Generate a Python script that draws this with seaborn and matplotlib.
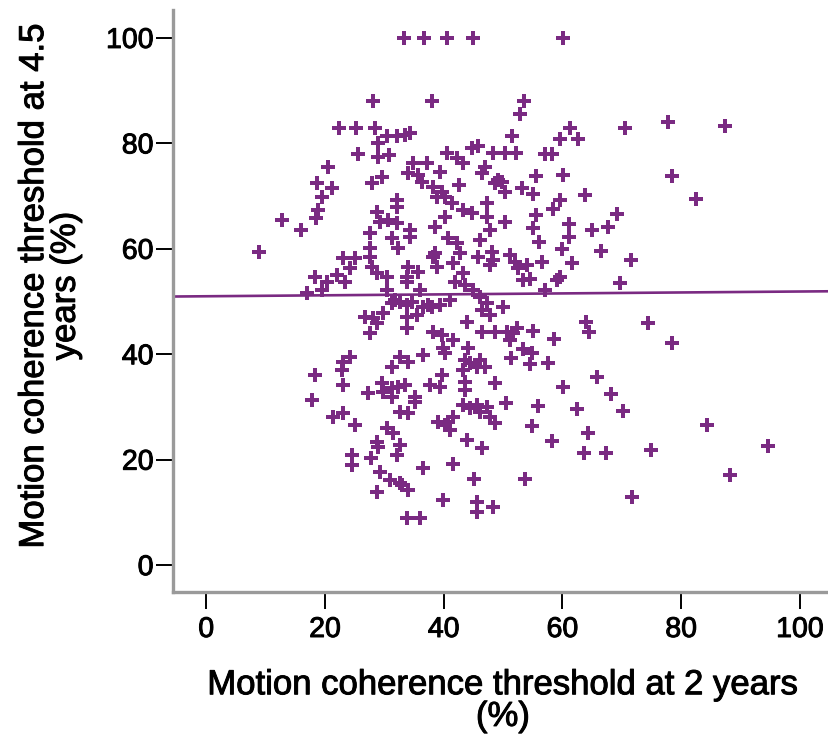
import matplotlib
matplotlib.use("Agg")
import matplotlib.pyplot as plt
import matplotlib.patheffects as pe
import seaborn as sns
import pandas as pd

# ---- data (x: threshold at 2 y, y: threshold at 4.5 y) ----
x_2y = [
    33.3, 36.7, 40.6, 44.9, 60.1,
    28.1, 38.0, 22.4, 25.3, 28.5, 30.5, 32.2, 33.5, 34.3, 29.0, 25.6, 29.0, 30.8, 20.5, 18.7,
    21.2, 19.5, 18.9, 18.5, 12.8, 16.0, 8.9, 27.9, 29.6, 34.8, 37.2, 34.0, 35.7, 36.4, 39.4,
    40.6, 42.3, 43.3, 44.8, 45.8, 47.0, 48.3, 46.5, 38.2, 38.9, 40.2, 42.6, 41.4, 43.3, 44.8,
    47.3, 47.3, 48.7, 32.2, 32.2, 28.8, 29.3, 30.6, 32.2, 27.6, 31.3, 34.3, 34.3, 32.3, 40.2,
    38.6, 40.7, 42.3, 42.8, 46.1, 47.8, 45.8, 47.8, 27.6, 27.6, 27.9, 28.8, 30.5, 23.1, 25.1,
    24.2, 18.4, 20.4, 22.1, 23.4, 19.5, 17.0, 34.0, 33.8, 35.7, 33.8, 38.2, 38.9, 41.6, 41.9,
    43.3, 43.6, 44.9, 36.0, 30.5, 48.3,
    49.2, 39.7, 48.1, 38.6,
    53.5, 52.9, 51.5, 50.3, 52.2, 57.1, 58.2, 61.3, 59.6, 62.6, 70.5, 55.6, 60.1, 49.8, 50.3,
    53.2, 55.1, 59.6, 58.4, 63.8, 50.3, 55.6, 55.1, 56.1, 61.1, 61.1, 59.9, 65.0, 67.7, 69.2,
    66.5, 51.2, 52.0, 52.5, 54.0, 53.4, 54.5, 56.6, 61.6, 59.1, 59.6, 69.7, 71.5, 57.1,
    77.8, 87.4, 78.5, 82.5,
    50.0, 50.7, 51.7, 52.4, 51.2, 55.1, 58.6, 64.0, 64.5, 74.4, 78.5, 53.4, 54.9, 51.3, 54.5,
    57.6, 65.8, 60.1, 68.2, 50.5, 55.9, 62.5, 70.2, 54.9, 84.3, 64.3, 58.2, 63.6, 67.3, 74.9,
    94.6, 53.7, 88.2, 71.7,
    31.3, 32.7, 33.8, 34.7, 36.5, 38.0, 39.4, 33.8, 35.5, 26.8, 28.1, 29.8, 27.6, 28.8, 33.8,
    38.2, 39.7, 41.6, 43.9, 46.5, 46.5, 47.8, 39.9, 40.2, 36.5, 32.7, 34.0, 31.3, 23.1, 24.2,
    22.9, 18.4, 23.1, 17.8, 21.4, 23.1, 25.1, 27.3, 29.6, 29.8, 31.3, 32.3, 33.5, 31.3, 35.2,
    35.2, 32.7, 34.0, 37.7, 39.4, 39.7, 43.6, 43.6, 43.3, 43.6, 44.4, 46.1, 47.0, 45.6, 44.1,
    48.7, 43.3, 44.4, 45.6, 46.1, 47.3, 39.1, 40.2, 41.1, 40.7, 41.6, 47.8, 48.7, 43.9, 46.5,
    30.5, 31.5, 32.7, 28.8, 29.0, 32.2, 24.6, 24.6, 27.8, 29.3, 31.0, 32.7, 34.0, 28.8, 36.5,
    41.6, 45.1, 39.9, 45.6, 45.6, 48.3, 33.8, 36.0,
    48.7, 33.0, 31.8, 37.4, 41.1, 46.1, 47.3,
]
y_45y = [
    100, 100, 100, 100, 100,
    88.0, 88.0, 82.9, 82.9, 82.9, 81.4, 81.4, 81.6, 82.0, 80.0, 78.0, 77.4, 77.8, 75.5, 72.5,
    71.5, 69.8, 67.4, 65.8, 65.5, 63.6, 59.4, 72.5, 73.6, 76.3, 76.3, 74.4, 74.0, 72.7, 74.6,
    78.2, 77.2, 76.3, 79.1, 79.5, 75.5, 78.2, 74.4, 71.7, 69.8, 69.8, 72.1, 68.7, 67.4, 66.8,
    68.7, 66.0, 72.5, 69.3, 67.9, 67.0, 65.1, 65.5, 64.9, 63.0, 62.0, 63.6, 62.2, 60.2, 66.0,
    64.1, 62.0, 61.1, 59.2, 61.7, 63.6, 58.4, 56.9, 60.2, 58.4, 56.5, 55.4, 54.6, 58.2, 58.2,
    56.3, 54.6, 53.7, 55.0, 53.7, 52.2, 51.6, 56.5, 54.6, 55.6, 53.7, 58.4, 56.5, 57.3, 53.7,
    55.4, 53.1, 52.2, 52.2, 52.2, 57.9,
    73.1, 70.8, 59.4, 59.2,
    88.0, 85.6, 81.4, 78.2, 78.2, 78.0, 78.0, 82.9, 80.8, 80.8, 82.9, 73.8, 74.0, 72.7, 70.8,
    71.5, 70.4, 69.3, 67.6, 70.2, 65.1, 66.4, 63.9, 61.3, 64.7, 62.2, 60.0, 63.6, 64.1, 66.6,
    59.6, 58.8, 57.5, 56.4, 56.9, 54.1, 54.3, 57.5, 57.3, 54.1, 54.6, 53.5, 57.9, 52.2,
    84.1, 83.3, 73.8, 69.4,
    49.0, 44.2, 44.0, 45.0, 42.7, 44.4, 42.9, 46.1, 44.2, 45.9, 42.1, 41.0, 40.2, 39.3, 38.1,
    38.3, 35.7, 33.8, 32.4, 30.7, 30.2, 29.6, 29.2, 26.4, 26.6, 25.0, 23.5, 21.3, 21.3, 21.8,
    22.6, 16.3, 17.1, 12.9,
    49.7, 49.9, 49.3, 49.9, 49.0, 49.0, 49.3, 47.1, 47.4, 47.1, 46.9, 47.8, 44.0, 45.9, 45.0,
    44.2, 43.6, 42.7, 46.1, 44.2, 48.4, 47.4, 41.2, 40.2, 39.8, 39.5, 38.5, 37.6, 38.5, 39.5,
    37.0, 36.1, 34.2, 31.3, 28.1, 28.8, 26.6, 32.6, 34.5, 32.8, 33.6, 33.8, 34.2, 31.9, 31.9,
    30.9, 29.0, 28.8, 34.2, 33.8, 36.1, 34.7, 33.2, 37.0, 38.9, 38.3, 38.9, 37.6, 37.6, 41.2,
    34.5, 30.4, 29.8, 30.4, 29.0, 30.0, 27.1, 26.6, 25.6, 27.1, 28.1, 28.1, 26.9, 23.7, 22.2,
    26.0, 25.0, 22.8, 23.3, 22.4, 20.9, 20.9, 19.0, 20.3, 17.6, 16.1, 15.6, 14.2, 13.9, 18.4,
    19.2, 16.3, 12.3, 12.0, 10.1, 11.0, 8.9, 8.9,
    44.2, 15.2, 50.3, 49.3, 50.3, 50.9, 49.7,
]
# fitted linear trend line
fit_intercept = 51.0
fit_slope = 0.009

x_ticks = [0, 20, 40, 60, 80, 100]
y_ticks = [0, 20, 40, 60, 80, 100]
x_label = "Motion coherence threshold at 2 years\n(%)"
y_label = "Motion coherence threshold at 4.5\nyears (%)"

# ---- plot ----
sns.set_theme(style="white")
plt.rcParams["font.family"] = ["Liberation Sans", "DejaVu Sans"]

purple = "#7a2a82"
df = pd.DataFrame({"x": x_2y, "y": y_45y})

fig = plt.figure(figsize=(8.29, 7.36), dpi=100)
ax = fig.add_axes([173 / 829, 144 / 736, 656 / 829, 582 / 736])

sns.scatterplot(data=df, x="x", y="y", marker="P", s=105, color=purple,
                linewidth=0, ax=ax, zorder=3)
ax.axline((0, fit_intercept), slope=fit_slope, color=purple, lw=1.9, zorder=2)

ax.set_xlim(-5.6, 104.9)
ax.set_ylim(-5.1, 105.3)
ax.set_xticks(x_ticks)
ax.set_yticks(y_ticks)

for side in ["top", "right"]:
    ax.spines[side].set_visible(False)
for side in ["left", "bottom"]:
    ax.spines[side].set_color("#9a9a9a")
    ax.spines[side].set_linewidth(2.4)

ax.tick_params(axis="both", which="major", direction="out", length=12, width=1.4,
               color="black", labelsize=20.5, labelcolor="black",
               bottom=True, left=True)
ax.tick_params(axis="x", pad=6)
ax.tick_params(axis="y", pad=2)

ax.set_xlabel(x_label, fontsize=25, color="black", linespacing=0.95)
ax.set_ylabel(y_label, fontsize=25, color="black", linespacing=0.95)
ax.xaxis.set_label_coords(0.503, -0.131)
ax.yaxis.set_label_coords(-0.139, 0.526)

# slightly heavier text, like the reference rendering
heavy = [pe.withStroke(linewidth=0.7, foreground="black")]
for t in ax.get_xticklabels() + ax.get_yticklabels() + [ax.xaxis.label, ax.yaxis.label]:
    t.set_path_effects(heavy)

fig.savefig("out.png", dpi=100)
